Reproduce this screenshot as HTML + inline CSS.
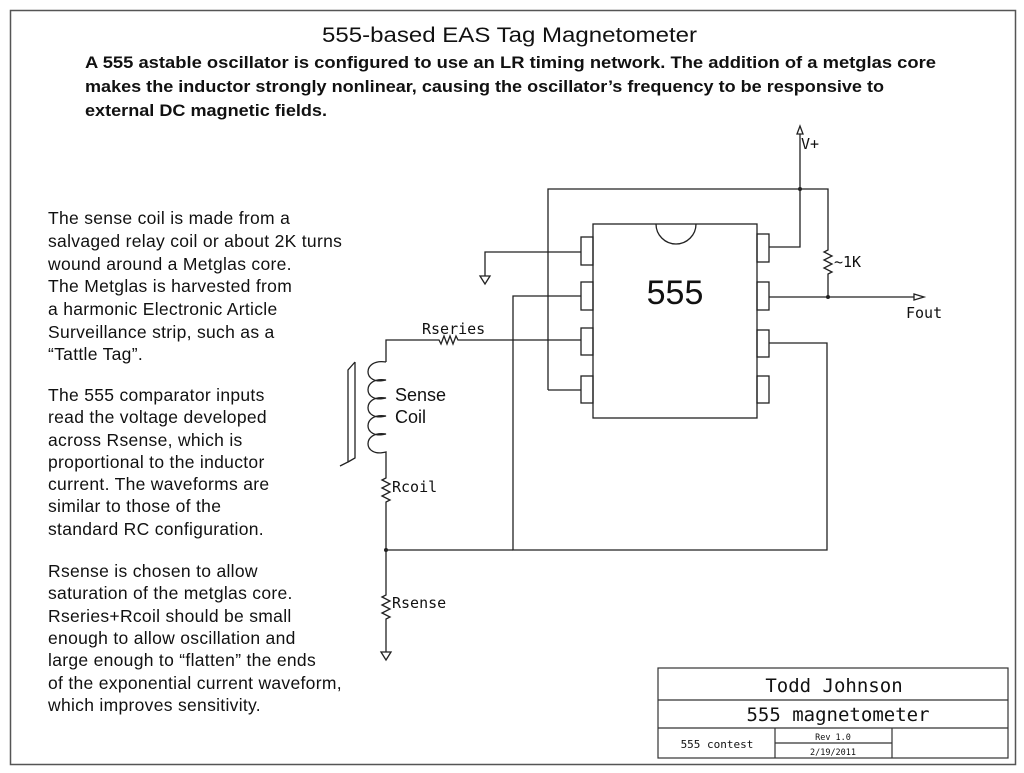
<!DOCTYPE html>
<html><head><meta charset="utf-8"><style>
body{margin:0;background:#fff;width:1024px;height:773px;overflow:hidden}
svg{position:absolute;left:0;top:0}
.t{font-family:"Liberation Sans",sans-serif;fill:#111}
.m{font-family:"DejaVu Sans Mono","Liberation Mono",monospace;fill:#111}
</style></head><body>
<svg width="1024" height="773" viewBox="0 0 1024 773">
<rect x="10.5" y="10.5" width="1005" height="754" fill="none" stroke="#555" stroke-width="1.5"/>
<text class="t" x="322" y="42" font-size="21" textLength="375" lengthAdjust="spacingAndGlyphs">555-based  EAS Tag Magnetometer</text>
<g class="t" font-size="17" font-weight="bold">
<text x="85" y="68" textLength="851" lengthAdjust="spacingAndGlyphs">A 555 astable oscillator is configured to use an LR timing network.  The addition of a metglas core</text>
<text x="85" y="92" textLength="799" lengthAdjust="spacingAndGlyphs">makes the inductor strongly nonlinear, causing the oscillator’s frequency to be responsive to</text>
<text x="85" y="116" textLength="242" lengthAdjust="spacingAndGlyphs">external DC magnetic fields.</text>
</g>
<g class="t" font-size="17.5" letter-spacing="0.3">
<text x="48" y="224">The sense coil is made from a</text>
<text x="48" y="247">salvaged relay coil or about 2K turns</text>
<text x="48" y="270">wound around a Metglas core.</text>
<text x="48" y="292">The Metglas is harvested from</text>
<text x="48" y="315">a harmonic Electronic Article</text>
<text x="48" y="338">Surveillance strip, such as a</text>
<text x="48" y="360">“Tattle Tag”.</text>
<text x="48" y="401">The 555 comparator inputs</text>
<text x="48" y="423">read the voltage developed</text>
<text x="48" y="446">across Rsense, which is</text>
<text x="48" y="468">proportional to the inductor</text>
<text x="48" y="490">current. The waveforms are</text>
<text x="48" y="512">similar to those of the</text>
<text x="48" y="535">standard RC configuration.</text>
<text x="48" y="577">Rsense is chosen to allow</text>
<text x="48" y="599">saturation of the metglas core.</text>
<text x="48" y="622">Rseries+Rcoil should be small</text>
<text x="48" y="644">enough to allow oscillation and</text>
<text x="48" y="666">large enough to “flatten” the ends</text>
<text x="48" y="689">of the exponential current waveform,</text>
<text x="48" y="711">which improves sensitivity.</text>
</g>
<g fill="none" stroke="#222" stroke-width="1.3">
<rect x="593" y="224" width="164" height="194" fill="#fff"/>
<path d="M656 224 A20 20 0 0 0 696 224"/>
<rect x="581" y="237" width="12" height="28"/>
<rect x="581" y="282" width="12" height="28"/>
<rect x="581" y="328" width="12" height="27"/>
<rect x="581" y="376" width="12" height="27"/>
<rect x="757" y="234" width="12" height="28"/>
<rect x="757" y="282" width="12" height="28"/>
<rect x="757" y="330" width="12" height="27"/>
<rect x="757" y="376" width="12" height="27"/>
<path d="M769 247 H800 V134"/>
<path d="M797 134 L800 126 L803 134 Z"/>
<path d="M548 390 V189 H828 V250 l-4 2 8 4 -8 4 8 4 -8 4 8 4 -4 2 V297"/>
<path d="M548 390 H581"/>
<path d="M769 297 H914"/>
<path d="M914 294 L924 297 L914 300 Z"/>
<path d="M581 252 H485 V276"/>
<path d="M480 276 H490 L485 284 Z"/>
<path d="M581 296 H513 V550 H827 V343 H769"/>
<path d="M386 550 H513"/>
<path d="M581 340 H458 l-2 -4 -3 8 -3 -8 -3 8 -3 -8 -3 8 -2 -4 H386 V362"/>
<path d="M386 362 c-24 -4 -24 24 0 18 c-24 -4 -24 24 0 18 c-24 -4 -24 24 0 18 c-24 -4 -24 24 0 18 c-24 -4 -24 24 0 18 V478 l-4 2 8 4 -8 4 8 4 -8 4 8 4 -4 2 V595 l-4 2 8 4 -8 4 8 4 -8 4 8 4 -4 2 V652"/>
<path d="M381 652 H391 L386 660 Z"/>
<path d="M355 362 L348 370 V462 L340 466"/>
<path d="M355 362 V458 L348 462"/>
</g>
<circle cx="800" cy="189" r="2" fill="#222"/>
<circle cx="828" cy="297" r="2" fill="#222"/>
<circle cx="386" cy="550" r="2" fill="#222"/>
<text class="t" x="675" y="304" font-size="34" text-anchor="middle">555</text>
<text class="t" x="395" y="401" font-size="18">Sense</text>
<text class="t" x="395" y="423" font-size="18">Coil</text>
<g class="m" font-size="15">
<text x="801" y="149">V+</text>
<text x="834" y="267">~1K</text>
<text x="906" y="318">Fout</text>
<text x="422" y="334">Rseries</text>
<text x="392" y="492">Rcoil</text>
<text x="392" y="608">Rsense</text>
</g>
<g fill="none" stroke="#333" stroke-width="1.2">
<rect x="658" y="668" width="350" height="90"/>
<path d="M658 700 H1008 M658 728 H1008 M775 728 V758 M892 728 V758 M775 743 H892"/>
</g>
<g class="m" text-anchor="middle">
<text x="834" y="692" font-size="19">Todd Johnson</text>
<text x="838" y="721" font-size="19">555 magnetometer</text>
<text x="717" y="748" font-size="11">555 contest</text>
<text x="833" y="740" font-size="8.5">Rev 1.0</text>
<text x="833" y="755" font-size="8.5">2/19/2011</text>
</g>
</svg>
</body></html>
